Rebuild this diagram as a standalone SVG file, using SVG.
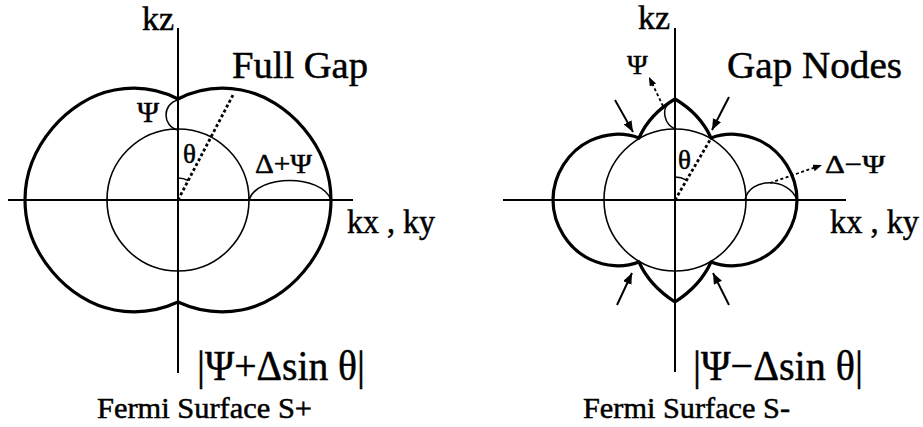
<svg xmlns="http://www.w3.org/2000/svg" width="923" height="427" viewBox="0 0 923 427">
<style>
.t{font-family:'Liberation Serif','Times New Roman',serif;fill:#000;stroke:#000;stroke-width:0.5}
.axis{stroke:#000;stroke-width:2;fill:none}
.inner{stroke:#000;stroke-width:1.6;fill:none}
.outer{stroke:#000;stroke-width:3.2;fill:none;stroke-linejoin:round}
.thin{stroke:#000;stroke-width:1.5;fill:none}
.dot{stroke:#000;stroke-width:2.8;fill:none;stroke-dasharray:3 2.5}
.dotarrow{stroke:#000;stroke-width:1.8;fill:none;stroke-dasharray:3 2.5}
.arrow{stroke:#000;stroke-width:2;fill:none}
</style>
<defs>
<marker id="head" markerUnits="userSpaceOnUse" markerWidth="12" markerHeight="10" refX="11" refY="4.5" orient="auto">
<path d="M0,0 L11,4.5 L0,9 z" fill="#000"/>
</marker>
<marker id="headsmall" markerUnits="userSpaceOnUse" markerWidth="10" markerHeight="8" refX="9" refY="3.5" orient="auto">
<path d="M0,0 L9,3.5 L0,7 z" fill="#000"/>
</marker>
</defs>

<g id="panel-s-plus">
<line class="axis" x1="178" y1="28" x2="178" y2="373"/>
<line class="axis" x1="8" y1="200" x2="353" y2="200"/>
<circle class="inner" cx="178" cy="200" r="71"/>
<path class="outer" d="M178,99 C195.6,89.9 218.4,85.7 241.5,90 C287.75,98.6 331,146.6 331,200 C331,253.4 287.75,301.4 241.5,310 C218.4,314.3 195.6,310.1 178,302 C160.4,310.1 137.6,314.3 114.5,310 C68.25,301.4 25,253.4 25,200 C25,146.6 68.25,98.6 114.5,90 C137.6,85.7 160.4,89.9 178,99 Z"/>
<path class="thin" d="M178,100 C162,104 162,126 178,130"/>
<path class="thin" d="M249,200 C257,174 322,174 331,200"/>
<path class="thin" d="M178,178 A22,22 0 0 1 188.2,180.5"/>
<line class="dot" x1="178" y1="200" x2="233" y2="95"/>
<g class="t">
<text x="142" y="30" font-size="34">kz</text>
<text x="232" y="78" font-size="38" textLength="136" lengthAdjust="spacingAndGlyphs">Full Gap</text>
<text x="137" y="122" font-size="30">Ψ</text>
<text x="183" y="163" font-size="27">θ</text>
<text x="255" y="173" font-size="28" textLength="57" lengthAdjust="spacingAndGlyphs">Δ+Ψ</text>
<text x="347" y="233" font-size="33" textLength="88" lengthAdjust="spacingAndGlyphs">kx , ky</text>
<text x="197" y="380" font-size="42" textLength="168" lengthAdjust="spacingAndGlyphs">|Ψ+Δsin θ|</text>
<text x="97" y="418" font-size="30" textLength="215" lengthAdjust="spacingAndGlyphs">Fermi Surface S+</text>
</g>
</g>

<g id="panel-s-minus">
<line class="axis" x1="675" y1="28" x2="675" y2="372"/>
<line class="axis" x1="503" y1="200" x2="846" y2="200"/>
<circle class="inner" cx="675" cy="200" r="71"/>
<path class="outer" d="M675,99 C692.7,109.5 704.8,124 711,138 C726.3,132.1 744.2,133.2 759.8,140.6 C781.7,151 797,175.2 797,200 C797,224.8 781.7,249 759.8,259.4 C744.2,266.8 726.3,267.9 711,262 C704.8,276 692.7,290.5 675,302 C657.3,290.5 645.2,276 639,262 C623.7,267.9 605.8,266.8 590.2,259.4 C568.3,249 553,224.8 553,200 C553,175.2 568.3,151 590.2,140.6 C605.8,133.2 623.7,132.1 639,138 C645.2,124 657.3,109.5 675,99 Z"/>
<path class="thin" d="M668,104 C662,110 664,124 675,129"/>
<path class="thin" d="M745,200 C749,177 789,177 797,200"/>
<path class="thin" d="M675,177 A23,23 0 0 1 686.5,180.1"/>
<line class="dot" x1="675" y1="200" x2="710" y2="140"/>
<g class="t">
<text x="638" y="29" font-size="34">kz</text>
<text x="727" y="78" font-size="38" textLength="175" lengthAdjust="spacingAndGlyphs">Gap Nodes</text>
<text x="627" y="74" font-size="28">Ψ</text>
<text x="678" y="169" font-size="27">θ</text>
<text x="825" y="173" font-size="26" textLength="60" lengthAdjust="spacingAndGlyphs">Δ−Ψ</text>
<text x="830" y="233" font-size="33" textLength="89" lengthAdjust="spacingAndGlyphs">kx , ky</text>
<text x="693" y="380" font-size="42" textLength="170" lengthAdjust="spacingAndGlyphs">|Ψ−Δsin θ|</text>
<text x="583" y="418" font-size="30" textLength="207" lengthAdjust="spacingAndGlyphs">Fermi Surface S-</text>
</g>
</g>

<g id="connectors">
<line class="arrow" x1="615" y1="100" x2="633" y2="132" marker-end="url(#head)"/>
<line class="arrow" x1="729" y1="97" x2="712" y2="130" marker-end="url(#head)"/>
<line class="arrow" x1="617" y1="305" x2="632" y2="273" marker-end="url(#head)"/>
<line class="arrow" x1="729" y1="305" x2="713" y2="273" marker-end="url(#head)"/>
<line class="dotarrow" x1="663" y1="106" x2="649" y2="77" marker-end="url(#headsmall)"/>
<line class="dotarrow" x1="770" y1="183" x2="822" y2="165" marker-end="url(#headsmall)"/>
</g>
</svg>
